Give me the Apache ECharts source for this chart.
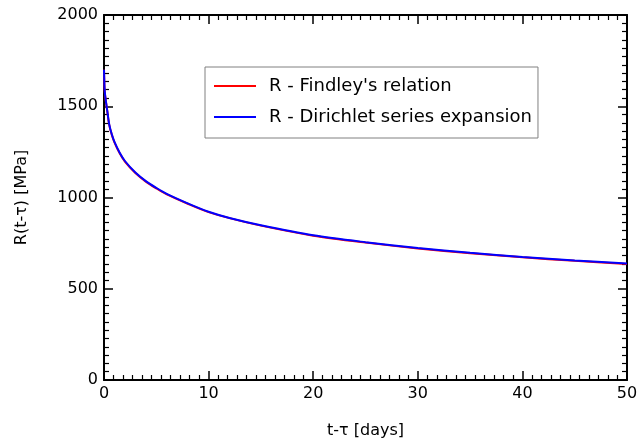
<!DOCTYPE html>
<html>
<head>
<meta charset="utf-8">
<script src="https://cdn.jsdelivr.net/npm/echarts@6/dist/echarts.min.js"></script>
<style>html,body{margin:0;padding:0;background:#fff}#c{width:641px;height:448px}</style>
</head>
<body>
<div id="c"></div>
<script>
// time t-tau [days]
const tDays = [0, 0.05, 0.1, 0.2, 0.3, 0.5, 0.75, 1, 1.5, 2, 3, 4, 5, 6, 8, 10, 12, 15, 20, 25, 30, 35, 40, 45, 50];
// R - Findley's relation [MPa]
const findley = [1700, 1600, 1562, 1518, 1478, 1398, 1343, 1302, 1242, 1197, 1134, 1087, 1050, 1017, 966, 920, 887, 846, 791, 753, 721, 695, 672, 653, 636];
// R - Dirichlet series expansion [MPa]
const dirichlet = [1700, 1603, 1565, 1520, 1480, 1400, 1345, 1305, 1245, 1200, 1137, 1090, 1053, 1020, 968, 922, 888, 848, 793, 755, 723, 697, 674, 655, 638];
const seriesNames = ["R - Findley's relation", "R - Dirichlet series expansion"];
const xTicks = { min: 0, max: 50, interval: 10 };
const yTicks = { min: 0, max: 2000, interval: 500 };

const FONT = 'DejaVu Sans';
const pair = (xs, ys) => xs.map((x, i) => [x, ys[i]]);

function axisBase(pos, ticks, showLabel) {
  return {
    type: 'value', position: pos,
    min: ticks.min, max: ticks.max, interval: ticks.interval,
    axisLine: { show: true, onZero: false, lineStyle: { color: '#000', width: 2 } },
    axisTick: { show: true, inside: true, length: 9, lineStyle: { color: '#000', width: 1.5 } },
    minorTick: { show: true, splitNumber: 11, length: 5, lineStyle: { color: '#000', width: 1.2 } },
    splitLine: { show: false },
    minorSplitLine: { show: false },
    axisLabel: { show: showLabel, color: '#000', fontFamily: FONT, fontSize: 16, margin: 6,
      formatter: v => String(v) }
  };
}

const chart = echarts.init(document.getElementById('c'), null, { renderer: 'canvas' });
chart.setOption({
  animation: false,
  backgroundColor: '#fff',
  grid: { left: 104, right: 14, top: 15, bottom: 68 },
  xAxis: [
    Object.assign(axisBase('bottom', xTicks, true), {
      name: 't-τ [days]', nameLocation: 'middle', nameGap: 43,
      nameTextStyle: { color: '#000', fontFamily: FONT, fontSize: 16 }
    }),
    axisBase('top', xTicks, false)
  ],
  yAxis: [
    Object.assign(axisBase('left', yTicks, true), {
      name: 'R(t-τ) [MPa]', nameLocation: 'middle', nameGap: 74,
      nameTextStyle: { color: '#000', fontFamily: FONT, fontSize: 16 }
    }),
    axisBase('right', yTicks, false)
  ],
  legend: {
    orient: 'vertical', left: 205, top: 67,
    padding: [10, 6, 12, 9],
    icon: 'rect',
    itemWidth: 42, itemHeight: 2, itemGap: 13,
    borderColor: '#808080', borderWidth: 1,
    textStyle: { color: '#000', fontFamily: FONT, fontSize: 18, lineHeight: 18, padding: [0, 0, 0, 8] },
    data: seriesNames
  },
  series: [
    {
      name: seriesNames[0], type: 'line', xAxisIndex: 0, yAxisIndex: 0,
      data: pair(tDays, findley), smooth: 0.3, showSymbol: false, symbol: 'none',
      lineStyle: { color: '#ff0000', width: 2 }, itemStyle: { color: '#ff0000' }, z: 2
    },
    {
      name: seriesNames[1], type: 'line', xAxisIndex: 0, yAxisIndex: 0,
      data: pair(tDays, dirichlet), smooth: 0.3, showSymbol: false, symbol: 'none',
      lineStyle: { color: '#0000ff', width: 2 }, itemStyle: { color: '#0000ff' }, z: 3
    }
  ]
});
</script>
</body>
</html>
